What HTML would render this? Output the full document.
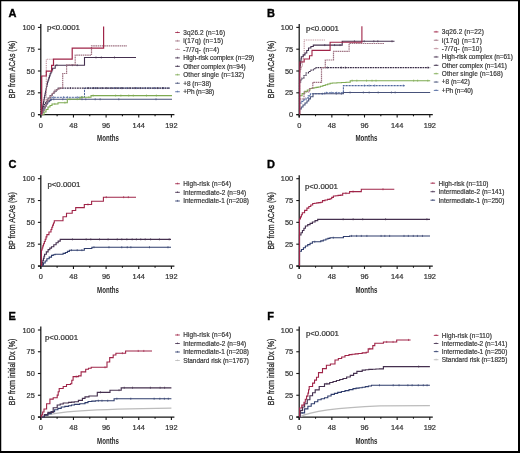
<!DOCTYPE html>
<html><head><meta charset="utf-8"><style>
html,body{margin:0;padding:0;background:#fff;}
#fig{position:relative;width:520px;height:453px;overflow:hidden;background:#fff;}
#fig svg{position:absolute;left:0;top:0;will-change:transform;filter:blur(0.35px);}
#fig text{font-family:"Liberation Sans", sans-serif;}
</style></head><body><div id="fig">
<svg width="520" height="453" viewBox="0 0 520 453">
<rect x="0" y="0" width="520" height="453" fill="#fff"/>
<text x="8.4" y="16.799999999999997" font-size="11.0" text-anchor="start" fill="#000" font-weight="bold" stroke="#000" stroke-width="0.35">A</text>
<path d="M40.8 23.9 V117.39999999999999" stroke="#151515" stroke-width="1.25" fill="none"/>
<path d="M38.0 114.6 H174.39999999999998" stroke="#151515" stroke-width="1.25" fill="none"/>
<path d="M37.9 114.60 H40.8" stroke="#151515" stroke-width="1.1"/>
<text x="34.8" y="117.19999999999999" font-size="7.4" text-anchor="end" fill="#363636" font-weight="normal" stroke="#363636" stroke-width="0.22">0</text>
<path d="M37.9 92.80 H40.8" stroke="#151515" stroke-width="1.1"/>
<text x="34.8" y="95.39999999999999" font-size="7.4" text-anchor="end" fill="#363636" font-weight="normal" stroke="#363636" stroke-width="0.22">25</text>
<path d="M37.9 71.00 H40.8" stroke="#151515" stroke-width="1.1"/>
<text x="34.8" y="73.6" font-size="7.4" text-anchor="end" fill="#363636" font-weight="normal" stroke="#363636" stroke-width="0.22">50</text>
<path d="M37.9 49.20 H40.8" stroke="#151515" stroke-width="1.1"/>
<text x="34.8" y="51.800000000000004" font-size="7.4" text-anchor="end" fill="#363636" font-weight="normal" stroke="#363636" stroke-width="0.22">75</text>
<path d="M37.9 27.40 H40.8" stroke="#151515" stroke-width="1.1"/>
<text x="34.8" y="30.000000000000007" font-size="7.4" text-anchor="end" fill="#363636" font-weight="normal" stroke="#363636" stroke-width="0.22">100</text>
<path d="M40.80 114.6 V117.5" stroke="#151515" stroke-width="1.1"/>
<text x="40.8" y="127.5" font-size="7.4" text-anchor="middle" fill="#363636" font-weight="normal" stroke="#363636" stroke-width="0.22">0</text>
<path d="M57.12 114.6 V116.3" stroke="#151515" stroke-width="1.1"/>
<path d="M73.45 114.6 V117.5" stroke="#151515" stroke-width="1.1"/>
<text x="73.44999999999999" y="127.5" font-size="7.4" text-anchor="middle" fill="#363636" font-weight="normal" stroke="#363636" stroke-width="0.22">48</text>
<path d="M89.77 114.6 V116.3" stroke="#151515" stroke-width="1.1"/>
<path d="M106.10 114.6 V117.5" stroke="#151515" stroke-width="1.1"/>
<text x="106.1" y="127.5" font-size="7.4" text-anchor="middle" fill="#363636" font-weight="normal" stroke="#363636" stroke-width="0.22">96</text>
<path d="M122.42 114.6 V116.3" stroke="#151515" stroke-width="1.1"/>
<path d="M138.75 114.6 V117.5" stroke="#151515" stroke-width="1.1"/>
<text x="138.75" y="127.5" font-size="7.4" text-anchor="middle" fill="#363636" font-weight="normal" stroke="#363636" stroke-width="0.22">144</text>
<path d="M155.07 114.6 V116.3" stroke="#151515" stroke-width="1.1"/>
<path d="M171.40 114.6 V117.5" stroke="#151515" stroke-width="1.1"/>
<text x="171.39999999999998" y="127.5" font-size="7.4" text-anchor="middle" fill="#363636" font-weight="normal" stroke="#363636" stroke-width="0.22">192</text>
<text x="108.0" y="141.2" font-size="9.6" text-anchor="middle" fill="#2a2a2a" font-weight="bold" textLength="21.8" lengthAdjust="spacingAndGlyphs">Months</text>
<g transform="translate(15.399999999999999,69.5) rotate(-90)"><text x="0" y="0" font-size="9.8" text-anchor="middle" fill="#2e2e2e" font-weight="normal" stroke="#2e2e2e" stroke-width="0.32" textLength="57.5" lengthAdjust="spacingAndGlyphs">BP from ACAs (%)</text></g>
<text x="46.9" y="30.400000000000002" font-size="7.3" text-anchor="start" fill="#363636" font-weight="normal" textLength="33" lengthAdjust="spacingAndGlyphs" stroke="#363636" stroke-width="0.22">p&lt;0.0001</text>
<path d="M41.00 114.60 H42.00 V112.45 H43.00 V110.30 H44.00 V108.15 H45.00 V106.00 H46.50 V103.75 H48.00 V101.50 H49.90 V99.40 H51.80 V97.30 H84.50 V88.10 H170.00" fill="none" stroke="#5068a0" stroke-width="1.0" stroke-dasharray="2.2 0.8" stroke-opacity="1"/>
<path d="M53.58 96.20V98.30M63.54 96.20V98.30M67.44 96.20V98.30M77.39 96.20V98.30M81.51 96.20V98.30M95.31 87.00V89.10M114.51 87.00V89.10M118.82 87.00V89.10M122.18 87.00V89.10M126.94 87.00V89.10M136.38 87.00V89.10M145.33 87.00V89.10M149.05 87.00V89.10M154.54 87.00V89.10M163.39 87.00V89.10" stroke="#5068a0" stroke-width="0.65" fill="none" stroke-opacity="1"/>
<path d="M41.00 114.60 H42.00 V112.40 H43.00 V110.20 H44.00 V108.00 H45.17 V105.93 H46.33 V103.87 H47.50 V101.80 H49.25 V100.55 H51.00 V99.30 H172.00" fill="none" stroke="#48527a" stroke-width="1.1" stroke-opacity="1"/>
<path d="M53.80 98.20V100.30M62.75 98.20V100.30M82.02 98.20V100.30M85.77 98.20V100.30M95.19 98.20V100.30M100.13 98.20V100.30M118.79 98.20V100.30M156.03 98.20V100.30" stroke="#48527a" stroke-width="0.65" fill="none" stroke-opacity="1"/>
<path d="M41.00 114.60 H44.00 V112.00 H46.00 V109.50 H48.00 V107.00 H50.00 V105.50 H52.00 V104.00 H58.00 V102.70 H67.30 V99.20 H80.00 V97.20 H91.00 V95.60 H172.00" fill="none" stroke="#7eaa52" stroke-width="1.1" stroke-opacity="1"/>
<path d="M54.82 102.90V105.00M64.91 101.60V103.70M69.86 98.10V100.20M77.25 98.10V100.20M82.35 96.10V98.20M88.84 96.10V98.20M93.17 94.50V96.60M115.61 94.50V96.60M120.86 94.50V96.60M128.73 94.50V96.60M133.32 94.50V96.60M146.46 94.50V96.60M156.36 94.50V96.60" stroke="#7eaa52" stroke-width="0.65" fill="none" stroke-opacity="1"/>
<path d="M41.00 114.60 H41.13 V112.67 H41.27 V110.73 H41.40 V108.80 H42.74 V106.64 H44.08 V104.48 H45.42 V102.32 H46.76 V100.16 H48.10 V98.00 H50.13 V95.77 H52.17 V93.53 H54.20 V91.30 H56.20 V89.70 H58.20 V88.10 H170.00" fill="none" stroke="#3a2c48" stroke-width="1.1" stroke-dasharray="1.8 0.7" stroke-opacity="1"/>
<path d="M70.49 87.00V89.10M88.32 87.00V89.10M93.35 87.00V89.10M97.10 87.00V89.10M101.91 87.00V89.10M106.40 87.00V89.10M111.21 87.00V89.10M116.21 87.00V89.10M121.69 87.00V89.10M130.01 87.00V89.10M134.85 87.00V89.10M140.28 87.00V89.10M157.72 87.00V89.10M162.64 87.00V89.10" stroke="#3a2c48" stroke-width="0.65" fill="none" stroke-opacity="1"/>
<path d="M41.00 114.60 H41.41 V112.47 H41.82 V110.33 H42.23 V108.20 H42.64 V106.07 H43.06 V103.93 H43.47 V101.80 H43.88 V99.67 H44.29 V97.53 H44.70 V95.40 H45.15 V93.17 H45.60 V90.93 H46.05 V88.70 H46.50 V86.47 H46.95 V84.23 H47.40 V82.00 H48.08 V79.95 H48.75 V77.90 H49.42 V75.85 H50.10 V73.80 H50.93 V71.93 H51.77 V70.07 H52.60 V68.20 H55.20 V65.20 H84.50 V57.50 H136.00" fill="none" stroke="#45304f" stroke-width="1.1" stroke-opacity="1"/>
<path d="M56.88 64.10V66.20M72.36 64.10V66.20M77.22 64.10V66.20M95.99 56.40V58.50M101.32 56.40V58.50M114.49 56.40V58.50" stroke="#45304f" stroke-width="0.65" fill="none" stroke-opacity="1"/>
<path d="M41.00 114.60 V100.00 H46.30 V59.30 H53.50" fill="none" stroke="#c0909c" stroke-width="1.1" stroke-dasharray="1 0.8" stroke-opacity="1"/>
<path d="M41.00 114.60 H42.00 V112.48 H43.00 V110.36 H44.00 V108.24 H45.00 V106.12 H46.00 V104.00 H47.00 V102.00 H48.00 V100.00 H49.00 V98.00 H50.00 V96.00 H51.67 V94.00 H53.33 V92.00 H55.00 V90.00 H57.25 V89.05 H59.50 V88.10 H62.70 V73.50 H66.60 V64.90 H75.20 V55.20 H91.50 V45.80 H127.00" fill="none" stroke="#a07484" stroke-width="1.2" stroke-dasharray="1.6 0.6" stroke-opacity="1"/>
<path d="M41.70 114.60 V76.00 H46.30 V71.20 H51.60 V65.40 H53.50 V59.20 H72.20 V48.20 H103.60 V26.50" fill="none" stroke="#a02448" stroke-width="1.2" stroke-opacity="1"/>
<path d="M175.2 32.50 H179.79999999999998" stroke="#a02448" stroke-width="1.05" stroke-opacity="0.85"/>
<path d="M177.5 31.40 V33.10" stroke="#a02448" stroke-width="0.7" stroke-opacity="0.85"/>
<text x="183.2" y="34.8" font-size="6.45" text-anchor="start" fill="#383838" font-weight="normal" textLength="42" lengthAdjust="spacing" stroke="#383838" stroke-width="0.2">3q26.2 (n=16)</text>
<path d="M175.2 40.96 H179.79999999999998" stroke="#a07484" stroke-width="1.05" stroke-opacity="0.85"/>
<path d="M177.5 39.86 V41.56" stroke="#a07484" stroke-width="0.7" stroke-opacity="0.85"/>
<text x="183.2" y="43.26" font-size="6.45" text-anchor="start" fill="#383838" font-weight="normal" textLength="40" lengthAdjust="spacing" stroke="#383838" stroke-width="0.2">i(17q) (n=15)</text>
<path d="M175.2 49.42 H179.79999999999998" stroke="#c0909c" stroke-width="1.05" stroke-opacity="0.85"/>
<path d="M177.5 48.32 V50.02" stroke="#c0909c" stroke-width="0.7" stroke-opacity="0.85"/>
<text x="183.2" y="51.72" font-size="6.45" text-anchor="start" fill="#383838" font-weight="normal" textLength="36" lengthAdjust="spacing" stroke="#383838" stroke-width="0.2">-7/7q- (n=4)</text>
<path d="M175.2 57.88 H179.79999999999998" stroke="#45304f" stroke-width="1.05" stroke-opacity="0.85"/>
<path d="M177.5 56.78 V58.48" stroke="#45304f" stroke-width="0.7" stroke-opacity="0.85"/>
<text x="183.2" y="60.18" font-size="6.45" text-anchor="start" fill="#383838" font-weight="normal" textLength="71" lengthAdjust="spacing" stroke="#383838" stroke-width="0.2">High-risk complex (n=29)</text>
<path d="M175.2 66.34 H179.79999999999998" stroke="#3a2c48" stroke-width="1.05" stroke-opacity="0.85"/>
<path d="M177.5 65.24 V66.94" stroke="#3a2c48" stroke-width="0.7" stroke-opacity="0.85"/>
<text x="183.2" y="68.64" font-size="6.45" text-anchor="start" fill="#383838" font-weight="normal" textLength="62.5" lengthAdjust="spacing" stroke="#383838" stroke-width="0.2">Other complex (n=94)</text>
<path d="M175.2 74.80 H179.79999999999998" stroke="#7eaa52" stroke-width="1.05" stroke-opacity="0.85"/>
<path d="M177.5 73.70 V75.40" stroke="#7eaa52" stroke-width="0.7" stroke-opacity="0.85"/>
<text x="183.2" y="77.10000000000001" font-size="6.45" text-anchor="start" fill="#383838" font-weight="normal" textLength="61" lengthAdjust="spacing" stroke="#383838" stroke-width="0.2">Other single (n=132)</text>
<path d="M175.2 83.26 H179.79999999999998" stroke="#48527a" stroke-width="1.05" stroke-opacity="0.85"/>
<path d="M177.5 82.16 V83.86" stroke="#48527a" stroke-width="0.7" stroke-opacity="0.85"/>
<text x="183.2" y="85.56" font-size="6.45" text-anchor="start" fill="#383838" font-weight="normal" textLength="28" lengthAdjust="spacing" stroke="#383838" stroke-width="0.2">+8 (n=38)</text>
<path d="M175.2 91.72 H179.79999999999998" stroke="#5068a0" stroke-width="1.05" stroke-opacity="0.85"/>
<path d="M177.5 90.62 V92.32" stroke="#5068a0" stroke-width="0.7" stroke-opacity="0.85"/>
<text x="183.2" y="94.02" font-size="6.45" text-anchor="start" fill="#383838" font-weight="normal" textLength="31" lengthAdjust="spacing" stroke="#383838" stroke-width="0.2">+Ph (n=38)</text>
<text x="266.9" y="16.799999999999997" font-size="11.0" text-anchor="start" fill="#000" font-weight="bold" stroke="#000" stroke-width="0.35">B</text>
<path d="M299.2 23.9 V117.39999999999999" stroke="#151515" stroke-width="1.25" fill="none"/>
<path d="M296.4 114.6 H432.79999999999995" stroke="#151515" stroke-width="1.25" fill="none"/>
<path d="M296.3 114.60 H299.2" stroke="#151515" stroke-width="1.1"/>
<text x="293.2" y="117.19999999999999" font-size="7.4" text-anchor="end" fill="#363636" font-weight="normal" stroke="#363636" stroke-width="0.22">0</text>
<path d="M296.3 92.80 H299.2" stroke="#151515" stroke-width="1.1"/>
<text x="293.2" y="95.39999999999999" font-size="7.4" text-anchor="end" fill="#363636" font-weight="normal" stroke="#363636" stroke-width="0.22">25</text>
<path d="M296.3 71.00 H299.2" stroke="#151515" stroke-width="1.1"/>
<text x="293.2" y="73.6" font-size="7.4" text-anchor="end" fill="#363636" font-weight="normal" stroke="#363636" stroke-width="0.22">50</text>
<path d="M296.3 49.20 H299.2" stroke="#151515" stroke-width="1.1"/>
<text x="293.2" y="51.800000000000004" font-size="7.4" text-anchor="end" fill="#363636" font-weight="normal" stroke="#363636" stroke-width="0.22">75</text>
<path d="M296.3 27.40 H299.2" stroke="#151515" stroke-width="1.1"/>
<text x="293.2" y="30.000000000000007" font-size="7.4" text-anchor="end" fill="#363636" font-weight="normal" stroke="#363636" stroke-width="0.22">100</text>
<path d="M299.20 114.6 V117.5" stroke="#151515" stroke-width="1.1"/>
<text x="299.2" y="127.5" font-size="7.4" text-anchor="middle" fill="#363636" font-weight="normal" stroke="#363636" stroke-width="0.22">0</text>
<path d="M315.52 114.6 V116.3" stroke="#151515" stroke-width="1.1"/>
<path d="M331.85 114.6 V117.5" stroke="#151515" stroke-width="1.1"/>
<text x="331.84999999999997" y="127.5" font-size="7.4" text-anchor="middle" fill="#363636" font-weight="normal" stroke="#363636" stroke-width="0.22">48</text>
<path d="M348.17 114.6 V116.3" stroke="#151515" stroke-width="1.1"/>
<path d="M364.50 114.6 V117.5" stroke="#151515" stroke-width="1.1"/>
<text x="364.5" y="127.5" font-size="7.4" text-anchor="middle" fill="#363636" font-weight="normal" stroke="#363636" stroke-width="0.22">96</text>
<path d="M380.82 114.6 V116.3" stroke="#151515" stroke-width="1.1"/>
<path d="M397.15 114.6 V117.5" stroke="#151515" stroke-width="1.1"/>
<text x="397.15" y="127.5" font-size="7.4" text-anchor="middle" fill="#363636" font-weight="normal" stroke="#363636" stroke-width="0.22">144</text>
<path d="M413.47 114.6 V116.3" stroke="#151515" stroke-width="1.1"/>
<path d="M429.80 114.6 V117.5" stroke="#151515" stroke-width="1.1"/>
<text x="429.79999999999995" y="127.5" font-size="7.4" text-anchor="middle" fill="#363636" font-weight="normal" stroke="#363636" stroke-width="0.22">192</text>
<text x="366.4" y="141.2" font-size="9.6" text-anchor="middle" fill="#2a2a2a" font-weight="bold" textLength="21.8" lengthAdjust="spacingAndGlyphs">Months</text>
<g transform="translate(273.8,69.5) rotate(-90)"><text x="0" y="0" font-size="9.8" text-anchor="middle" fill="#2e2e2e" font-weight="normal" stroke="#2e2e2e" stroke-width="0.32" textLength="57.5" lengthAdjust="spacingAndGlyphs">BP from ACAs (%)</text></g>
<text x="305.9" y="30.8" font-size="7.3" text-anchor="start" fill="#363636" font-weight="normal" textLength="33" lengthAdjust="spacingAndGlyphs" stroke="#363636" stroke-width="0.22">p&lt;0.0001</text>
<path d="M299.50 114.60 V103.00 H301.67 V101.33 H303.83 V99.67 H306.00 V98.00 H308.20 V95.90 H310.40 V93.80 H324.80 V92.80 H343.40 V85.60 H405.50" fill="none" stroke="#5068a0" stroke-width="1.1" stroke-dasharray="2.2 0.8" stroke-opacity="1"/>
<path d="M322.43 92.70V94.80M326.37 91.70V93.80M331.42 91.70V93.80M336.73 91.70V93.80M364.45 84.50V86.60M369.19 84.50V86.60M374.65 84.50V86.60M403.37 84.50V86.60" stroke="#5068a0" stroke-width="0.65" fill="none" stroke-opacity="1"/>
<path d="M299.50 114.60 V109.00 H301.25 V107.00 H303.00 V105.00 H305.00 V103.00 H307.00 V101.00 H308.70 V98.85 H310.40 V96.70 H313.00 V93.80 H343.40 V92.50 H430.20" fill="none" stroke="#48527a" stroke-width="1.1" stroke-opacity="1"/>
<path d="M336.26 92.70V94.80M341.35 92.70V94.80M350.09 91.40V93.50M363.36 91.40V93.50M369.17 91.40V93.50M378.19 91.40V93.50M391.45 91.40V93.50M395.16 91.40V93.50" stroke="#48527a" stroke-width="0.65" fill="none" stroke-opacity="1"/>
<path d="M299.50 114.60 V95.70 H302.10 V93.55 H304.70 V91.40 H307.35 V89.95 H310.00 V88.50 H312.02 V88.12 H314.05 V87.75 H316.08 V87.38 H318.10 V87.00 H320.50 V86.24 H322.90 V85.48 H325.30 V84.72 H327.70 V83.96 H330.10 V83.20 H332.37 V83.07 H334.64 V82.94 H336.91 V82.81 H339.19 V82.69 H341.46 V82.56 H343.73 V82.43 H346.00 V82.30 H350.20 V80.70 H430.20" fill="none" stroke="#7eaa52" stroke-width="1.1" stroke-opacity="1"/>
<path d="M352.16 79.60V81.70M356.84 79.60V81.70M366.54 79.60V81.70M372.03 79.60V81.70M376.02 79.60V81.70M413.63 79.60V81.70M417.64 79.60V81.70M427.80 79.60V81.70" stroke="#7eaa52" stroke-width="0.65" fill="none" stroke-opacity="1"/>
<path d="M299.50 114.60 V82.00 H300.75 V80.00 H302.00 V78.00 H304.00 V75.50 H306.00 V73.00 H308.50 V71.50 H311.00 V70.00 H313.50 V68.80 H316.00 V67.60 H430.20" fill="none" stroke="#3a2c48" stroke-width="1.1" stroke-dasharray="1.8 0.7" stroke-opacity="1"/>
<path d="M327.45 66.50V68.60M341.22 66.50V68.60M345.34 66.50V68.60M428.01 66.50V68.60" stroke="#3a2c48" stroke-width="0.65" fill="none" stroke-opacity="1"/>
<path d="M299.50 114.60 V99.00 H304.00 V92.00 H309.50 V88.50 H312.80 V82.30 H321.50 V67.70 H325.30 V60.00 H333.50 V51.40 H349.10 V43.50 H384.50" fill="none" stroke="#a07484" stroke-width="1.2" stroke-dasharray="1.6 0.6" stroke-opacity="1"/>
<path d="M299.50 114.60 V72.00 H300.33 V69.67 H301.17 V67.33 H302.00 V65.00 H302.37 V62.83 H302.73 V60.67 H303.10 V58.50 H303.47 V56.33 H303.83 V54.17 H304.20 V52.00 V40.00 H324.90" fill="none" stroke="#c0909c" stroke-width="1.1" stroke-dasharray="1 0.8" stroke-opacity="1"/>
<path d="M299.50 114.60 V70.00 H299.80 V67.78 H300.10 V65.57 H300.40 V63.35 H300.70 V61.13 H301.00 V58.92 H301.30 V56.70 H303.15 V54.85 H305.00 V53.00 H306.75 V50.50 H308.50 V48.00 H310.90 V46.55 H313.30 V45.10 H342.20 V41.30 H394.50" fill="none" stroke="#45304f" stroke-width="1.1" stroke-opacity="1"/>
<path d="M324.74 44.00V46.10M334.56 44.00V46.10M340.06 44.00V46.10M354.43 40.20V42.30M364.21 40.20V42.30M373.83 40.20V42.30M377.84 40.20V42.30M392.01 40.20V42.30" stroke="#45304f" stroke-width="0.65" fill="none" stroke-opacity="1"/>
<path d="M299.80 114.60 V62.00 H304.20 V59.00 H309.50 V55.70 H312.00 V50.40 H330.10 V42.30 H361.90 V26.30" fill="none" stroke="#a02448" stroke-width="1.1" stroke-opacity="1"/>
<path d="M433.8 31.90 H438.40000000000003" stroke="#a02448" stroke-width="1.05" stroke-opacity="0.85"/>
<path d="M436.1 30.80 V32.50" stroke="#a02448" stroke-width="0.7" stroke-opacity="0.85"/>
<text x="441.8" y="34.199999999999996" font-size="6.45" text-anchor="start" fill="#383838" font-weight="normal" textLength="42" lengthAdjust="spacing" stroke="#383838" stroke-width="0.2">3q26.2 (n=22)</text>
<path d="M433.8 40.26 H438.40000000000003" stroke="#a07484" stroke-width="1.05" stroke-opacity="0.85"/>
<path d="M436.1 39.16 V40.86" stroke="#a07484" stroke-width="0.7" stroke-opacity="0.85"/>
<text x="441.8" y="42.559999999999995" font-size="6.45" text-anchor="start" fill="#383838" font-weight="normal" textLength="40" lengthAdjust="spacing" stroke="#383838" stroke-width="0.2">i(17q) (n=17)</text>
<path d="M433.8 48.62 H438.40000000000003" stroke="#c0909c" stroke-width="1.05" stroke-opacity="0.85"/>
<path d="M436.1 47.52 V49.22" stroke="#c0909c" stroke-width="0.7" stroke-opacity="0.85"/>
<text x="441.8" y="50.919999999999995" font-size="6.45" text-anchor="start" fill="#383838" font-weight="normal" textLength="40" lengthAdjust="spacing" stroke="#383838" stroke-width="0.2">-7/7q- (n=10)</text>
<path d="M433.8 56.98 H438.40000000000003" stroke="#45304f" stroke-width="1.05" stroke-opacity="0.85"/>
<path d="M436.1 55.88 V57.58" stroke="#45304f" stroke-width="0.7" stroke-opacity="0.85"/>
<text x="441.8" y="59.279999999999994" font-size="6.45" text-anchor="start" fill="#383838" font-weight="normal" textLength="71" lengthAdjust="spacing" stroke="#383838" stroke-width="0.2">High-risk complex (n=61)</text>
<path d="M433.8 65.34 H438.40000000000003" stroke="#3a2c48" stroke-width="1.05" stroke-opacity="0.85"/>
<path d="M436.1 64.24 V65.94" stroke="#3a2c48" stroke-width="0.7" stroke-opacity="0.85"/>
<text x="441.8" y="67.64" font-size="6.45" text-anchor="start" fill="#383838" font-weight="normal" textLength="65" lengthAdjust="spacing" stroke="#383838" stroke-width="0.2">Other complex (n=141)</text>
<path d="M433.8 73.70 H438.40000000000003" stroke="#7eaa52" stroke-width="1.05" stroke-opacity="0.85"/>
<path d="M436.1 72.60 V74.30" stroke="#7eaa52" stroke-width="0.7" stroke-opacity="0.85"/>
<text x="441.8" y="75.99999999999999" font-size="6.45" text-anchor="start" fill="#383838" font-weight="normal" textLength="61" lengthAdjust="spacing" stroke="#383838" stroke-width="0.2">Other single (n=168)</text>
<path d="M433.8 82.06 H438.40000000000003" stroke="#48527a" stroke-width="1.05" stroke-opacity="0.85"/>
<path d="M436.1 80.96 V82.66" stroke="#48527a" stroke-width="0.7" stroke-opacity="0.85"/>
<text x="441.8" y="84.36" font-size="6.45" text-anchor="start" fill="#383838" font-weight="normal" textLength="28" lengthAdjust="spacing" stroke="#383838" stroke-width="0.2">+8 (n=42)</text>
<path d="M433.8 90.42 H438.40000000000003" stroke="#5068a0" stroke-width="1.05" stroke-opacity="0.85"/>
<path d="M436.1 89.32 V91.02" stroke="#5068a0" stroke-width="0.7" stroke-opacity="0.85"/>
<text x="441.8" y="92.71999999999998" font-size="6.45" text-anchor="start" fill="#383838" font-weight="normal" textLength="31" lengthAdjust="spacing" stroke="#383838" stroke-width="0.2">+Ph (n=40)</text>
<text x="8.4" y="168.4" font-size="11.0" text-anchor="start" fill="#000" font-weight="bold" stroke="#000" stroke-width="0.35">C</text>
<path d="M40.8 175.2 V268.8" stroke="#151515" stroke-width="1.25" fill="none"/>
<path d="M38.0 266.0 H174.39999999999998" stroke="#151515" stroke-width="1.25" fill="none"/>
<path d="M37.9 266.00 H40.8" stroke="#151515" stroke-width="1.1"/>
<text x="34.8" y="268.6" font-size="7.4" text-anchor="end" fill="#363636" font-weight="normal" stroke="#363636" stroke-width="0.22">0</text>
<path d="M37.9 244.18 H40.8" stroke="#151515" stroke-width="1.1"/>
<text x="34.8" y="246.775" font-size="7.4" text-anchor="end" fill="#363636" font-weight="normal" stroke="#363636" stroke-width="0.22">25</text>
<path d="M37.9 222.35 H40.8" stroke="#151515" stroke-width="1.1"/>
<text x="34.8" y="224.95" font-size="7.4" text-anchor="end" fill="#363636" font-weight="normal" stroke="#363636" stroke-width="0.22">50</text>
<path d="M37.9 200.52 H40.8" stroke="#151515" stroke-width="1.1"/>
<text x="34.8" y="203.12499999999997" font-size="7.4" text-anchor="end" fill="#363636" font-weight="normal" stroke="#363636" stroke-width="0.22">75</text>
<path d="M37.9 178.70 H40.8" stroke="#151515" stroke-width="1.1"/>
<text x="34.8" y="181.29999999999998" font-size="7.4" text-anchor="end" fill="#363636" font-weight="normal" stroke="#363636" stroke-width="0.22">100</text>
<path d="M40.80 266.0 V268.9" stroke="#151515" stroke-width="1.1"/>
<text x="40.8" y="278.9" font-size="7.4" text-anchor="middle" fill="#363636" font-weight="normal" stroke="#363636" stroke-width="0.22">0</text>
<path d="M57.12 266.0 V267.7" stroke="#151515" stroke-width="1.1"/>
<path d="M73.45 266.0 V268.9" stroke="#151515" stroke-width="1.1"/>
<text x="73.44999999999999" y="278.9" font-size="7.4" text-anchor="middle" fill="#363636" font-weight="normal" stroke="#363636" stroke-width="0.22">48</text>
<path d="M89.77 266.0 V267.7" stroke="#151515" stroke-width="1.1"/>
<path d="M106.10 266.0 V268.9" stroke="#151515" stroke-width="1.1"/>
<text x="106.1" y="278.9" font-size="7.4" text-anchor="middle" fill="#363636" font-weight="normal" stroke="#363636" stroke-width="0.22">96</text>
<path d="M122.42 266.0 V267.7" stroke="#151515" stroke-width="1.1"/>
<path d="M138.75 266.0 V268.9" stroke="#151515" stroke-width="1.1"/>
<text x="138.75" y="278.9" font-size="7.4" text-anchor="middle" fill="#363636" font-weight="normal" stroke="#363636" stroke-width="0.22">144</text>
<path d="M155.07 266.0 V267.7" stroke="#151515" stroke-width="1.1"/>
<path d="M171.40 266.0 V268.9" stroke="#151515" stroke-width="1.1"/>
<text x="171.39999999999998" y="278.9" font-size="7.4" text-anchor="middle" fill="#363636" font-weight="normal" stroke="#363636" stroke-width="0.22">192</text>
<text x="108.0" y="292.6" font-size="9.6" text-anchor="middle" fill="#2a2a2a" font-weight="bold" textLength="21.8" lengthAdjust="spacingAndGlyphs">Months</text>
<g transform="translate(15.399999999999999,220.85) rotate(-90)"><text x="0" y="0" font-size="9.8" text-anchor="middle" fill="#2e2e2e" font-weight="normal" stroke="#2e2e2e" stroke-width="0.32" textLength="57.5" lengthAdjust="spacingAndGlyphs">BP from ACAs (%)</text></g>
<text x="47.4" y="187.2" font-size="7.3" text-anchor="start" fill="#363636" font-weight="normal" textLength="33" lengthAdjust="spacingAndGlyphs" stroke="#363636" stroke-width="0.22">p&lt;0.0001</text>
<path d="M41.00 266.00 H41.70 V265.20 H43.43 V263.07 H45.17 V260.93 H46.90 V258.80 H49.20 V257.10 H51.50 V255.40 H53.25 V254.80 H55.00 V254.20 H60.80 H63.10 V253.35 H65.40 V252.50 H67.40 V251.35 H69.40 V250.20 H84.30 V248.50 H91.90 V247.30 H171.00" fill="none" stroke="#2e3c6c" stroke-width="1.1" stroke-opacity="1"/>
<path d="M71.40 249.10V251.20M77.21 249.10V251.20M81.90 249.10V251.20M93.96 246.20V248.30M108.96 246.20V248.30M121.77 246.20V248.30M127.24 246.20V248.30M130.86 246.20V248.30M149.50 246.20V248.30M167.97 246.20V248.30" stroke="#2e3c6c" stroke-width="0.65" fill="none" stroke-opacity="1"/>
<path d="M41.00 266.00 H41.70 V264.60 H42.28 V262.52 H42.86 V260.44 H43.44 V258.36 H44.02 V256.28 H44.60 V254.20 H46.35 V251.90 H48.10 V249.60 H49.80 V248.15 H51.50 V246.70 H53.80 V244.70 H56.10 V242.70 H58.15 V241.05 H60.20 V239.40 H171.00" fill="none" stroke="#45304f" stroke-width="1.15" stroke-opacity="1"/>
<path d="M72.44 238.30V240.40M86.16 238.30V240.40M90.79 238.30V240.40M99.53 238.30V240.40M108.08 238.30V240.40M117.28 238.30V240.40M121.81 238.30V240.40M126.84 238.30V240.40M132.17 238.30V240.40M136.38 238.30V240.40M140.75 238.30V240.40M145.21 238.30V240.40M150.60 238.30V240.40M159.42 238.30V240.40M169.20 238.30V240.40" stroke="#45304f" stroke-width="0.65" fill="none" stroke-opacity="1"/>
<path d="M41.40 266.00 V250.00 H42.10 V247.93 H42.80 V245.87 H43.50 V243.80 H44.35 V241.50 H45.20 V239.20 H46.05 V236.90 H46.90 V234.60 H48.95 V232.05 H51.00 V229.50 H51.83 V227.32 H52.65 V225.15 H53.47 V222.98 H54.30 V220.80 H63.00 V216.80 H66.50 V213.30 H72.20 V210.50 H75.70 V207.60 H84.30 V204.50 H91.60 V201.20 H103.40 V197.20 H136.00" fill="none" stroke="#a02448" stroke-width="1.1" stroke-opacity="1"/>
<path d="M87.96 203.40V205.50M106.26 196.10V198.20M123.64 196.10V198.20M128.33 196.10V198.20" stroke="#a02448" stroke-width="0.65" fill="none" stroke-opacity="1"/>
<path d="M175.2 183.70 H179.79999999999998" stroke="#a02448" stroke-width="1.05" stroke-opacity="0.85"/>
<path d="M177.5 182.60 V184.30" stroke="#a02448" stroke-width="0.7" stroke-opacity="0.85"/>
<text x="183.2" y="186.0" font-size="6.45" text-anchor="start" fill="#383838" font-weight="normal" textLength="48" lengthAdjust="spacing" stroke="#383838" stroke-width="0.2">High-risk (n=64)</text>
<path d="M175.2 192.35 H179.79999999999998" stroke="#45304f" stroke-width="1.05" stroke-opacity="0.85"/>
<path d="M177.5 191.25 V192.95" stroke="#45304f" stroke-width="0.7" stroke-opacity="0.85"/>
<text x="183.2" y="194.65" font-size="6.45" text-anchor="start" fill="#383838" font-weight="normal" textLength="63" lengthAdjust="spacing" stroke="#383838" stroke-width="0.2">Intermediate-2 (n=94)</text>
<path d="M175.2 201.00 H179.79999999999998" stroke="#2e3c6c" stroke-width="1.05" stroke-opacity="0.85"/>
<path d="M177.5 199.90 V201.60" stroke="#2e3c6c" stroke-width="0.7" stroke-opacity="0.85"/>
<text x="183.2" y="203.3" font-size="6.45" text-anchor="start" fill="#383838" font-weight="normal" textLength="65.7" lengthAdjust="spacing" stroke="#383838" stroke-width="0.2">Intermediate-1 (n=208)</text>
<text x="266.9" y="168.4" font-size="11.0" text-anchor="start" fill="#000" font-weight="bold" stroke="#000" stroke-width="0.35">D</text>
<path d="M299.2 175.2 V268.8" stroke="#151515" stroke-width="1.25" fill="none"/>
<path d="M296.4 266.0 H432.79999999999995" stroke="#151515" stroke-width="1.25" fill="none"/>
<path d="M296.3 266.00 H299.2" stroke="#151515" stroke-width="1.1"/>
<text x="293.2" y="268.6" font-size="7.4" text-anchor="end" fill="#363636" font-weight="normal" stroke="#363636" stroke-width="0.22">0</text>
<path d="M296.3 244.18 H299.2" stroke="#151515" stroke-width="1.1"/>
<text x="293.2" y="246.775" font-size="7.4" text-anchor="end" fill="#363636" font-weight="normal" stroke="#363636" stroke-width="0.22">25</text>
<path d="M296.3 222.35 H299.2" stroke="#151515" stroke-width="1.1"/>
<text x="293.2" y="224.95" font-size="7.4" text-anchor="end" fill="#363636" font-weight="normal" stroke="#363636" stroke-width="0.22">50</text>
<path d="M296.3 200.52 H299.2" stroke="#151515" stroke-width="1.1"/>
<text x="293.2" y="203.12499999999997" font-size="7.4" text-anchor="end" fill="#363636" font-weight="normal" stroke="#363636" stroke-width="0.22">75</text>
<path d="M296.3 178.70 H299.2" stroke="#151515" stroke-width="1.1"/>
<text x="293.2" y="181.29999999999998" font-size="7.4" text-anchor="end" fill="#363636" font-weight="normal" stroke="#363636" stroke-width="0.22">100</text>
<path d="M299.20 266.0 V268.9" stroke="#151515" stroke-width="1.1"/>
<text x="299.2" y="278.9" font-size="7.4" text-anchor="middle" fill="#363636" font-weight="normal" stroke="#363636" stroke-width="0.22">0</text>
<path d="M315.52 266.0 V267.7" stroke="#151515" stroke-width="1.1"/>
<path d="M331.85 266.0 V268.9" stroke="#151515" stroke-width="1.1"/>
<text x="331.84999999999997" y="278.9" font-size="7.4" text-anchor="middle" fill="#363636" font-weight="normal" stroke="#363636" stroke-width="0.22">48</text>
<path d="M348.17 266.0 V267.7" stroke="#151515" stroke-width="1.1"/>
<path d="M364.50 266.0 V268.9" stroke="#151515" stroke-width="1.1"/>
<text x="364.5" y="278.9" font-size="7.4" text-anchor="middle" fill="#363636" font-weight="normal" stroke="#363636" stroke-width="0.22">96</text>
<path d="M380.82 266.0 V267.7" stroke="#151515" stroke-width="1.1"/>
<path d="M397.15 266.0 V268.9" stroke="#151515" stroke-width="1.1"/>
<text x="397.15" y="278.9" font-size="7.4" text-anchor="middle" fill="#363636" font-weight="normal" stroke="#363636" stroke-width="0.22">144</text>
<path d="M413.47 266.0 V267.7" stroke="#151515" stroke-width="1.1"/>
<path d="M429.80 266.0 V268.9" stroke="#151515" stroke-width="1.1"/>
<text x="429.79999999999995" y="278.9" font-size="7.4" text-anchor="middle" fill="#363636" font-weight="normal" stroke="#363636" stroke-width="0.22">192</text>
<text x="366.4" y="292.6" font-size="9.6" text-anchor="middle" fill="#2a2a2a" font-weight="bold" textLength="21.8" lengthAdjust="spacingAndGlyphs">Months</text>
<g transform="translate(273.8,220.85) rotate(-90)"><text x="0" y="0" font-size="9.8" text-anchor="middle" fill="#2e2e2e" font-weight="normal" stroke="#2e2e2e" stroke-width="0.32" textLength="57.5" lengthAdjust="spacingAndGlyphs">BP from ACAs (%)</text></g>
<text x="304.9" y="188.5" font-size="7.3" text-anchor="start" fill="#363636" font-weight="normal" textLength="33" lengthAdjust="spacingAndGlyphs" stroke="#363636" stroke-width="0.22">p&lt;0.0001</text>
<path d="M299.50 266.00 V251.30 H301.47 V249.53 H303.43 V247.77 H305.40 V246.00 H307.73 V244.60 H310.07 V243.20 H312.40 V241.80 H318.20 H320.77 V240.87 H323.33 V239.93 H325.90 V239.00 H327.95 V238.40 H330.00 V237.80 H341.00 H343.40 V236.50 H349.60 V236.00 H430.00" fill="none" stroke="#2e3c6c" stroke-width="1.1" stroke-opacity="1"/>
<path d="M314.76 240.70V242.80M333.30 236.70V238.80M351.55 234.90V237.00M356.63 234.90V237.00M361.34 234.90V237.00M366.89 234.90V237.00M381.09 234.90V237.00M384.84 234.90V237.00M389.61 234.90V237.00M404.00 234.90V237.00M408.34 234.90V237.00M413.29 234.90V237.00M417.41 234.90V237.00M422.48 234.90V237.00" stroke="#2e3c6c" stroke-width="0.65" fill="none" stroke-opacity="1"/>
<path d="M299.50 266.00 V235.00 H300.98 V232.75 H302.45 V230.50 H303.92 V228.25 H305.40 V226.00 H307.73 V224.67 H310.07 V223.33 H312.40 V222.00 H315.05 V220.65 H317.70 V219.30 H430.00" fill="none" stroke="#45304f" stroke-width="1.15" stroke-opacity="1"/>
<path d="M343.16 218.20V220.30M353.15 218.20V220.30M362.69 218.20V220.30M385.59 218.20V220.30M426.91 218.20V220.30" stroke="#45304f" stroke-width="0.65" fill="none" stroke-opacity="1"/>
<path d="M299.50 266.00 V219.00 H300.43 V216.90 H301.37 V214.80 H302.30 V212.70 H304.60 V210.40 H306.90 V208.10 H308.83 V206.57 H310.77 V205.03 H312.70 V203.50 H314.73 V203.20 H316.75 V202.90 H318.77 V202.60 H320.80 V202.30 H322.50 V200.60 H325.00 V200.00 H327.50 V199.40 H330.00 V198.80 H331.70 V197.40 H333.40 V196.00 H335.72 V195.70 H338.05 V195.40 H340.38 V195.10 H342.70 V194.80 V193.30 H349.60 V191.60 H361.30 V189.30 H394.30" fill="none" stroke="#a02448" stroke-width="1.1" stroke-opacity="1"/>
<path d="M345.93 192.20V194.30M353.06 190.50V192.60M382.99 188.20V190.30" stroke="#a02448" stroke-width="0.65" fill="none" stroke-opacity="1"/>
<path d="M430.5 183.20 H435.1" stroke="#a02448" stroke-width="1.05" stroke-opacity="0.85"/>
<path d="M432.8 182.10 V183.80" stroke="#a02448" stroke-width="0.7" stroke-opacity="0.85"/>
<text x="438.5" y="185.5" font-size="6.45" text-anchor="start" fill="#383838" font-weight="normal" textLength="50" lengthAdjust="spacing" stroke="#383838" stroke-width="0.2">High-risk (n=110)</text>
<path d="M430.5 191.70 H435.1" stroke="#45304f" stroke-width="1.05" stroke-opacity="0.85"/>
<path d="M432.8 190.60 V192.30" stroke="#45304f" stroke-width="0.7" stroke-opacity="0.85"/>
<text x="438.5" y="194.0" font-size="6.45" text-anchor="start" fill="#383838" font-weight="normal" textLength="65.8" lengthAdjust="spacing" stroke="#383838" stroke-width="0.2">Intermediate-2 (n=141)</text>
<path d="M430.5 200.20 H435.1" stroke="#2e3c6c" stroke-width="1.05" stroke-opacity="0.85"/>
<path d="M432.8 199.10 V200.80" stroke="#2e3c6c" stroke-width="0.7" stroke-opacity="0.85"/>
<text x="438.5" y="202.5" font-size="6.45" text-anchor="start" fill="#383838" font-weight="normal" textLength="65.8" lengthAdjust="spacing" stroke="#383838" stroke-width="0.2">Intermediate-1 (n=250)</text>
<text x="8.6" y="319.59999999999997" font-size="11.0" text-anchor="start" fill="#000" font-weight="bold" stroke="#000" stroke-width="0.35">E</text>
<path d="M40.8 326.5 V419.8" stroke="#151515" stroke-width="1.25" fill="none"/>
<path d="M38.0 417.0 H174.39999999999998" stroke="#151515" stroke-width="1.25" fill="none"/>
<path d="M37.9 417.00 H40.8" stroke="#151515" stroke-width="1.1"/>
<text x="34.8" y="419.6" font-size="7.4" text-anchor="end" fill="#363636" font-weight="normal" stroke="#363636" stroke-width="0.22">0</text>
<path d="M37.9 395.25 H40.8" stroke="#151515" stroke-width="1.1"/>
<text x="34.8" y="397.85" font-size="7.4" text-anchor="end" fill="#363636" font-weight="normal" stroke="#363636" stroke-width="0.22">25</text>
<path d="M37.9 373.50 H40.8" stroke="#151515" stroke-width="1.1"/>
<text x="34.8" y="376.1" font-size="7.4" text-anchor="end" fill="#363636" font-weight="normal" stroke="#363636" stroke-width="0.22">50</text>
<path d="M37.9 351.75 H40.8" stroke="#151515" stroke-width="1.1"/>
<text x="34.8" y="354.35" font-size="7.4" text-anchor="end" fill="#363636" font-weight="normal" stroke="#363636" stroke-width="0.22">75</text>
<path d="M37.9 330.00 H40.8" stroke="#151515" stroke-width="1.1"/>
<text x="34.8" y="332.6" font-size="7.4" text-anchor="end" fill="#363636" font-weight="normal" stroke="#363636" stroke-width="0.22">100</text>
<path d="M40.80 417.0 V419.9" stroke="#151515" stroke-width="1.1"/>
<text x="40.8" y="429.9" font-size="7.4" text-anchor="middle" fill="#363636" font-weight="normal" stroke="#363636" stroke-width="0.22">0</text>
<path d="M57.12 417.0 V418.7" stroke="#151515" stroke-width="1.1"/>
<path d="M73.45 417.0 V419.9" stroke="#151515" stroke-width="1.1"/>
<text x="73.44999999999999" y="429.9" font-size="7.4" text-anchor="middle" fill="#363636" font-weight="normal" stroke="#363636" stroke-width="0.22">48</text>
<path d="M89.77 417.0 V418.7" stroke="#151515" stroke-width="1.1"/>
<path d="M106.10 417.0 V419.9" stroke="#151515" stroke-width="1.1"/>
<text x="106.1" y="429.9" font-size="7.4" text-anchor="middle" fill="#363636" font-weight="normal" stroke="#363636" stroke-width="0.22">96</text>
<path d="M122.42 417.0 V418.7" stroke="#151515" stroke-width="1.1"/>
<path d="M138.75 417.0 V419.9" stroke="#151515" stroke-width="1.1"/>
<text x="138.75" y="429.9" font-size="7.4" text-anchor="middle" fill="#363636" font-weight="normal" stroke="#363636" stroke-width="0.22">144</text>
<path d="M155.07 417.0 V418.7" stroke="#151515" stroke-width="1.1"/>
<path d="M171.40 417.0 V419.9" stroke="#151515" stroke-width="1.1"/>
<text x="171.39999999999998" y="429.9" font-size="7.4" text-anchor="middle" fill="#363636" font-weight="normal" stroke="#363636" stroke-width="0.22">192</text>
<text x="108.0" y="443.6" font-size="9.6" text-anchor="middle" fill="#2a2a2a" font-weight="bold" textLength="21.8" lengthAdjust="spacingAndGlyphs">Months</text>
<g transform="translate(15.399999999999999,372.0) rotate(-90)"><text x="0" y="0" font-size="9.8" text-anchor="middle" fill="#2e2e2e" font-weight="normal" stroke="#2e2e2e" stroke-width="0.32" textLength="66.5" lengthAdjust="spacingAndGlyphs">BP from initial Dx (%)</text></g>
<text x="45.0" y="340.20000000000005" font-size="7.3" text-anchor="start" fill="#363636" font-weight="normal" textLength="33" lengthAdjust="spacingAndGlyphs" stroke="#363636" stroke-width="0.22">p&lt;0.0001</text>
<path d="M41 417 C 55 411.5, 90 409.3, 171.4 408.2" fill="none" stroke="#bcbcbc" stroke-width="1.3" stroke-opacity="1"/>
<path d="M41.00 417.00 H44.45 V415.30 H47.90 V413.60 H51.25 V411.65 H54.60 V409.70 H57.90 V408.35 H61.20 V407.00 H64.85 V406.35 H68.50 V405.70 H71.45 V405.05 H74.40 V404.40 H79.70 V403.70 H85.00 V402.60 H88.00 V401.50 H91.80 V401.15 H95.60 V400.80 H109.70 H114.10 V398.80 H171.40" fill="none" stroke="#2e3c6c" stroke-width="1.1" stroke-opacity="1"/>
<path d="M98.33 399.70V401.80M101.97 399.70V401.80M107.72 399.70V401.80M116.87 397.70V399.80M130.78 397.70V399.80M154.12 397.70V399.80M159.85 397.70V399.80M164.35 397.70V399.80M168.31 397.70V399.80" stroke="#2e3c6c" stroke-width="0.65" fill="none" stroke-opacity="1"/>
<path d="M41.00 417.00 H44.45 V414.65 H47.90 V412.30 H53.20 V407.70 H57.20 V405.00 H60.20 V404.00 H63.20 V403.00 H68.50 V402.40 H71.45 V402.05 H74.40 V401.70 H78.40 V400.40 H82.40 V398.40 H85.00 V396.80 H89.00 V396.00 H97.30 V392.30 H110.00 V390.20 H121.20 V387.80 H171.40" fill="none" stroke="#45304f" stroke-width="1.15" stroke-opacity="1"/>
<path d="M50.83 411.20V413.30M100.50 391.20V393.30M119.03 389.10V391.20M124.25 386.70V388.80M132.54 386.70V388.80M150.40 386.70V388.80M160.12 386.70V388.80M164.59 386.70V388.80" stroke="#45304f" stroke-width="0.65" fill="none" stroke-opacity="1"/>
<path d="M41.00 417.00 H41.30 V415.00 H42.65 V412.00 H44.00 V409.00 H46.60 V403.70 H49.90 V399.10 H53.20 V397.70 H57.20 V395.10 H58.20 V391.80 H59.20 V388.50 H63.20 V386.50 H66.50 V384.50 H70.50 V383.80 H71.80 V380.20 H73.10 V376.60 H78.40 V375.90 H81.10 V371.90 H85.70 V369.30 H88.45 V368.30 H91.20 V367.30 H107.00 V362.00 H109.70 V357.60 H113.20 V355.00 H115.90 V353.20 H125.60 V351.00 H152.00" fill="none" stroke="#a02448" stroke-width="1.1" stroke-opacity="1"/>
<path d="M76.26 375.50V377.60M105.00 366.20V368.30M122.38 352.10V354.20M138.23 349.90V352.00M143.79 349.90V352.00" stroke="#a02448" stroke-width="0.65" fill="none" stroke-opacity="1"/>
<path d="M175.2 335.00 H179.79999999999998" stroke="#a02448" stroke-width="1.05" stroke-opacity="0.85"/>
<path d="M177.5 333.90 V335.60" stroke="#a02448" stroke-width="0.7" stroke-opacity="0.85"/>
<text x="183.2" y="337.3" font-size="6.45" text-anchor="start" fill="#383838" font-weight="normal" textLength="48" lengthAdjust="spacing" stroke="#383838" stroke-width="0.2">High-risk (n=64)</text>
<path d="M175.2 343.50 H179.79999999999998" stroke="#45304f" stroke-width="1.05" stroke-opacity="0.85"/>
<path d="M177.5 342.40 V344.10" stroke="#45304f" stroke-width="0.7" stroke-opacity="0.85"/>
<text x="183.2" y="345.8" font-size="6.45" text-anchor="start" fill="#383838" font-weight="normal" textLength="63" lengthAdjust="spacing" stroke="#383838" stroke-width="0.2">Intermediate-2 (n=94)</text>
<path d="M175.2 352.00 H179.79999999999998" stroke="#2e3c6c" stroke-width="1.05" stroke-opacity="0.85"/>
<path d="M177.5 350.90 V352.60" stroke="#2e3c6c" stroke-width="0.7" stroke-opacity="0.85"/>
<text x="183.2" y="354.3" font-size="6.45" text-anchor="start" fill="#383838" font-weight="normal" textLength="65.7" lengthAdjust="spacing" stroke="#383838" stroke-width="0.2">Intermediate-1 (n=208)</text>
<path d="M175.2 360.50 H179.79999999999998" stroke="#bcbcbc" stroke-width="1.05" stroke-opacity="0.85"/>
<path d="M177.5 359.40 V361.10" stroke="#bcbcbc" stroke-width="0.7" stroke-opacity="0.85"/>
<text x="183.2" y="362.8" font-size="6.45" text-anchor="start" fill="#383838" font-weight="normal" textLength="65.7" lengthAdjust="spacing" stroke="#383838" stroke-width="0.2">Standard risk (n=1767)</text>
<text x="267.2" y="319.59999999999997" font-size="11.0" text-anchor="start" fill="#000" font-weight="bold" stroke="#000" stroke-width="0.35">F</text>
<path d="M299.2 326.5 V419.8" stroke="#151515" stroke-width="1.25" fill="none"/>
<path d="M296.4 417.0 H432.79999999999995" stroke="#151515" stroke-width="1.25" fill="none"/>
<path d="M296.3 417.00 H299.2" stroke="#151515" stroke-width="1.1"/>
<text x="293.2" y="419.6" font-size="7.4" text-anchor="end" fill="#363636" font-weight="normal" stroke="#363636" stroke-width="0.22">0</text>
<path d="M296.3 395.25 H299.2" stroke="#151515" stroke-width="1.1"/>
<text x="293.2" y="397.85" font-size="7.4" text-anchor="end" fill="#363636" font-weight="normal" stroke="#363636" stroke-width="0.22">25</text>
<path d="M296.3 373.50 H299.2" stroke="#151515" stroke-width="1.1"/>
<text x="293.2" y="376.1" font-size="7.4" text-anchor="end" fill="#363636" font-weight="normal" stroke="#363636" stroke-width="0.22">50</text>
<path d="M296.3 351.75 H299.2" stroke="#151515" stroke-width="1.1"/>
<text x="293.2" y="354.35" font-size="7.4" text-anchor="end" fill="#363636" font-weight="normal" stroke="#363636" stroke-width="0.22">75</text>
<path d="M296.3 330.00 H299.2" stroke="#151515" stroke-width="1.1"/>
<text x="293.2" y="332.6" font-size="7.4" text-anchor="end" fill="#363636" font-weight="normal" stroke="#363636" stroke-width="0.22">100</text>
<path d="M299.20 417.0 V419.9" stroke="#151515" stroke-width="1.1"/>
<text x="299.2" y="429.9" font-size="7.4" text-anchor="middle" fill="#363636" font-weight="normal" stroke="#363636" stroke-width="0.22">0</text>
<path d="M315.52 417.0 V418.7" stroke="#151515" stroke-width="1.1"/>
<path d="M331.85 417.0 V419.9" stroke="#151515" stroke-width="1.1"/>
<text x="331.84999999999997" y="429.9" font-size="7.4" text-anchor="middle" fill="#363636" font-weight="normal" stroke="#363636" stroke-width="0.22">48</text>
<path d="M348.17 417.0 V418.7" stroke="#151515" stroke-width="1.1"/>
<path d="M364.50 417.0 V419.9" stroke="#151515" stroke-width="1.1"/>
<text x="364.5" y="429.9" font-size="7.4" text-anchor="middle" fill="#363636" font-weight="normal" stroke="#363636" stroke-width="0.22">96</text>
<path d="M380.82 417.0 V418.7" stroke="#151515" stroke-width="1.1"/>
<path d="M397.15 417.0 V419.9" stroke="#151515" stroke-width="1.1"/>
<text x="397.15" y="429.9" font-size="7.4" text-anchor="middle" fill="#363636" font-weight="normal" stroke="#363636" stroke-width="0.22">144</text>
<path d="M413.47 417.0 V418.7" stroke="#151515" stroke-width="1.1"/>
<path d="M429.80 417.0 V419.9" stroke="#151515" stroke-width="1.1"/>
<text x="429.79999999999995" y="429.9" font-size="7.4" text-anchor="middle" fill="#363636" font-weight="normal" stroke="#363636" stroke-width="0.22">192</text>
<text x="366.4" y="443.6" font-size="9.6" text-anchor="middle" fill="#2a2a2a" font-weight="bold" textLength="21.8" lengthAdjust="spacingAndGlyphs">Months</text>
<g transform="translate(273.8,372.0) rotate(-90)"><text x="0" y="0" font-size="9.8" text-anchor="middle" fill="#2e2e2e" font-weight="normal" stroke="#2e2e2e" stroke-width="0.32" textLength="66.5" lengthAdjust="spacingAndGlyphs">BP from initial Dx (%)</text></g>
<text x="305.9" y="335.70000000000005" font-size="7.3" text-anchor="start" fill="#363636" font-weight="normal" textLength="33" lengthAdjust="spacingAndGlyphs" stroke="#363636" stroke-width="0.22">p&lt;0.0001</text>
<path d="M299.6 417 C 311 411, 340 407.5, 380 405.9 L 429.9 405.7" fill="none" stroke="#bcbcbc" stroke-width="1.3" stroke-opacity="1"/>
<path d="M299.60 417.00 H300.00 V412.90 H304.60 V408.90 H307.90 V406.30 H311.20 V403.70 H314.50 V401.70 H317.80 V399.70 H321.15 V398.70 H324.50 V397.70 H327.80 V396.05 H331.10 V394.40 H334.40 V393.40 H337.70 V392.40 H341.35 V391.50 H345.00 V390.60 H349.00 V389.60 H353.00 V388.60 H356.07 V388.17 H359.13 V387.73 H362.20 V387.30 H365.30 V386.63 H368.40 V385.97 H371.50 V385.30 H429.90" fill="none" stroke="#2e3c6c" stroke-width="1.1" stroke-opacity="1"/>
<path d="M302.70 411.80V413.90M379.48 384.20V386.30M393.20 384.20V386.30M399.06 384.20V386.30M407.88 384.20V386.30M412.14 384.20V386.30M418.27 384.20V386.30M423.30 384.20V386.30M427.09 384.20V386.30" stroke="#2e3c6c" stroke-width="0.65" fill="none" stroke-opacity="1"/>
<path d="M299.60 417.00 H300.10 V413.65 H300.60 V410.30 H302.60 V407.00 H304.60 V403.70 H307.25 V399.70 H309.90 V395.70 H312.55 V392.75 H315.20 V389.80 H319.20 V386.50 H324.50 V383.80 H329.70 V382.50 H333.05 V381.50 H336.40 V380.50 H339.70 V379.50 H343.00 V378.50 H346.65 V376.95 H350.30 V375.40 H353.60 V373.40 H356.90 V371.40 H362.20 V370.10 H365.50 V369.75 H368.80 V369.40 H372.33 V369.20 H375.87 V369.00 H379.40 V368.80 H383.40 V366.60 H429.90" fill="none" stroke="#45304f" stroke-width="1.15" stroke-opacity="1"/>
<path d="M326.90 382.70V384.80M418.65 365.50V367.60" stroke="#45304f" stroke-width="0.65" fill="none" stroke-opacity="1"/>
<path d="M299.60 417.00 V408.00 H301.80 V405.15 H304.00 V402.30 H305.30 V399.23 H306.60 V396.17 H307.90 V393.10 H308.55 V389.80 H309.20 V386.50 H312.60 V383.10 H314.55 V380.15 H316.50 V377.20 H318.50 V372.60 H322.50 V368.60 H326.40 V365.30 H330.40 V364.00 H335.00 V360.00 H338.33 V358.50 H341.67 V357.00 H345.00 V355.50 H349.00 V354.60 H352.07 V354.23 H355.13 V353.87 H358.20 V353.50 H362.20 V352.85 H366.20 V352.20 H368.20 V348.90 H372.80 V345.60 H374.80 V343.20 H383.40 V342.00 H396.70 V340.00 H410.60" fill="none" stroke="#a02448" stroke-width="1.1" stroke-opacity="1"/>
<path d="M369.78 347.80V349.90M386.68 340.90V343.00M393.05 340.90V343.00M408.53 338.90V341.00" stroke="#a02448" stroke-width="0.65" fill="none" stroke-opacity="1"/>
<path d="M433.8 335.40 H438.40000000000003" stroke="#a02448" stroke-width="1.05" stroke-opacity="0.85"/>
<path d="M436.1 334.30 V336.00" stroke="#a02448" stroke-width="0.7" stroke-opacity="0.85"/>
<text x="441.8" y="337.7" font-size="6.45" text-anchor="start" fill="#383838" font-weight="normal" textLength="50" lengthAdjust="spacing" stroke="#383838" stroke-width="0.2">High-risk (n=110)</text>
<path d="M433.8 343.50 H438.40000000000003" stroke="#45304f" stroke-width="1.05" stroke-opacity="0.85"/>
<path d="M436.1 342.40 V344.10" stroke="#45304f" stroke-width="0.7" stroke-opacity="0.85"/>
<text x="441.8" y="345.8" font-size="6.45" text-anchor="start" fill="#383838" font-weight="normal" textLength="65.5" lengthAdjust="spacing" stroke="#383838" stroke-width="0.2">Intermediate-2 (n=141)</text>
<path d="M433.8 351.60 H438.40000000000003" stroke="#2e3c6c" stroke-width="1.05" stroke-opacity="0.85"/>
<path d="M436.1 350.50 V352.20" stroke="#2e3c6c" stroke-width="0.7" stroke-opacity="0.85"/>
<text x="441.8" y="353.9" font-size="6.45" text-anchor="start" fill="#383838" font-weight="normal" textLength="65.5" lengthAdjust="spacing" stroke="#383838" stroke-width="0.2">Intermediate-1 (n=250)</text>
<path d="M433.8 359.70 H438.40000000000003" stroke="#bcbcbc" stroke-width="1.05" stroke-opacity="0.85"/>
<path d="M436.1 358.60 V360.30" stroke="#bcbcbc" stroke-width="0.7" stroke-opacity="0.85"/>
<text x="441.8" y="362.0" font-size="6.45" text-anchor="start" fill="#383838" font-weight="normal" textLength="65.5" lengthAdjust="spacing" stroke="#383838" stroke-width="0.2">Standard risk (n=1825)</text>
<path d="M0.6 0 V453 M0 0.6 H520" stroke="#000" stroke-width="1.3" fill="none"/>
<path d="M519 0 V453 M0 452 H520" stroke="#000" stroke-width="2" fill="none"/>
</svg></div></body></html>
